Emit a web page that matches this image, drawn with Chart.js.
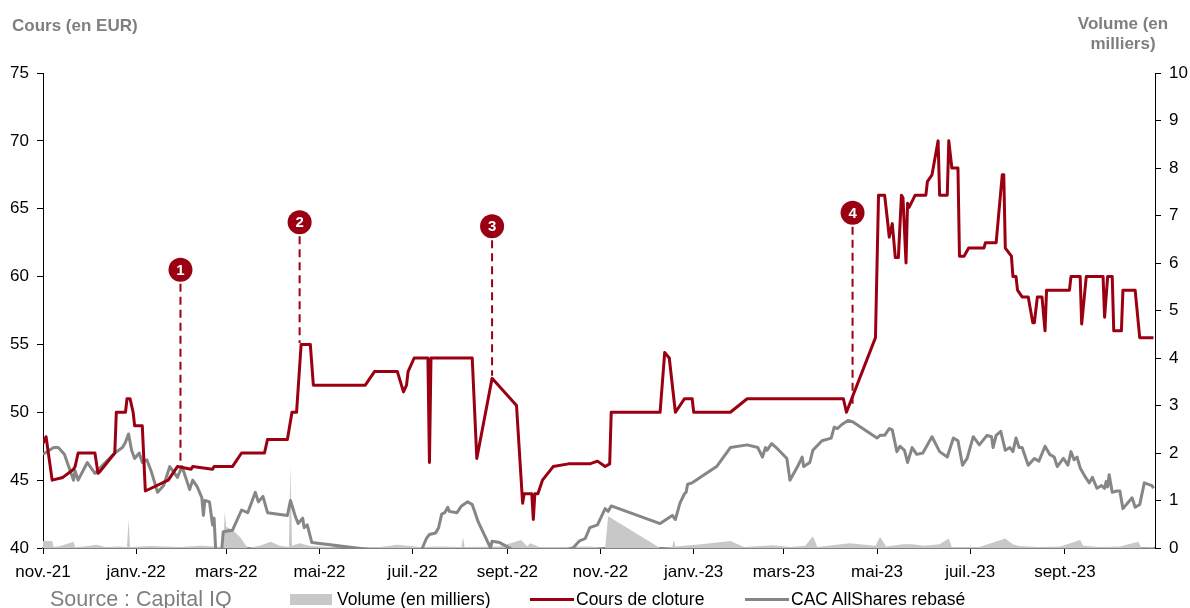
<!DOCTYPE html>
<html lang="fr">
<head>
<meta charset="utf-8">
<script src="https://cdn.jsdelivr.net/npm/chart.js@4.4.1/dist/chart.umd.min.js"></script>
<style>
  body { margin: 0; background: #fff; overflow: hidden; }
  #wrap { position: relative; width: 1190px; height: 608px; overflow: hidden; font-family: "Liberation Sans", Arial, sans-serif; }
  canvas { position: absolute; left: 0; top: 0; }
  .titre { position: absolute; color: #7f7f7f; font-weight: bold; font-size: 17px; }
  .leg { position: absolute; white-space: nowrap; font-size: 17.5px; color: #000; line-height: 22px; }
  .sym { position: absolute; }
</style>
</head>
<body>
<div id="wrap">
  <canvas id="graphique" width="1190" height="608"></canvas>
  <div class="titre" style="left:12px; top:16px;">Cours (en EUR)</div>
  <div class="titre" style="left:1063px; top:14px; width:120px; text-align:center; line-height:20px;">Volume (en<br>milliers)</div>
  <div class="leg" style="left:50px; top:586px; font-size:21.5px; color:#7f7f7f; line-height:26px;">Source : Capital IQ</div>
  <div class="sym" style="left:290px; top:594px; width:42px; height:11px; background:#c8c8c8;"></div>
  <div class="leg" style="left:337px; top:588px;">Volume (en milliers)</div>
  <div class="sym" style="left:530px; top:598px; width:44px; height:3px; background:#9a0012;"></div>
  <div class="leg" style="left:576px; top:588px;">Cours de cloture</div>
  <div class="sym" style="left:745px; top:598px; width:44px; height:3px; background:#868686;"></div>
  <div class="leg" style="left:791px; top:588px;">CAC AllShares rebasé</div>
</div>
<script>
// Axe des dates : jours écoulés depuis le 1er novembre 2021
const moisJours = [0, 61, 120, 181, 242, 304, 365, 426, 485, 546, 607, 669];
const moisLabels = ["nov.-21", "janv.-22", "mars-22", "mai-22", "juil.-22", "sept.-22",
  "nov.-22", "janv.-23", "mars-23", "mai-23", "juil.-23", "sept.-23"];
const dernierJour = 728;

// Cours de cloture (EUR)
const coursJours = [0, 2, 6, 13, 20, 21, 23, 34, 36, 37, 47, 48, 54, 55, 57, 59, 60, 65, 67, 82, 88, 97, 98, 111, 112, 124,
  130, 145, 147, 160, 163, 166, 169, 175, 177, 211, 217, 232, 236, 238, 239, 243, 252, 253, 254, 281, 284, 294, 310, 314,
  315, 320, 321, 322, 324, 327, 334, 344, 358, 363, 368, 371, 372, 404, 407, 410, 414, 417, 420, 425, 426, 450, 461, 524,
  526, 545, 547, 551, 553, 554, 556, 558, 560, 562, 563, 565, 566, 567, 571, 578, 579, 582, 586, 587, 592, 593, 595, 599,
  600, 603, 606, 616, 617, 624, 628, 629, 630, 634, 635, 637, 638, 641, 645, 648, 649, 651, 654, 656, 657, 672, 673, 679,
  680, 683, 694, 695, 697, 700, 701, 706, 707, 715, 718, 727];
const cours = [47.7, 48.2, 45.0, 45.2, 45.8, 46.0, 47.0, 47.0, 45.5, 45.6, 47.0, 50.0, 50.0, 51.0, 51.0, 50.0, 49.0, 49.0,
  44.2, 45.0, 46.0, 45.8, 46.0, 45.8, 46.0, 46.0, 47.0, 47.0, 48.0, 48.0, 50.0, 50.0, 55.0, 55.0, 52.0, 52.0, 53.0, 53.0,
  51.5, 52.0, 53.0, 54.0, 54.0, 46.3, 54.0, 54.0, 46.6, 52.5, 50.5, 43.3, 44.0, 44.0, 42.1, 44.0, 44.0, 45.0, 46.0, 46.2,
  46.2, 46.4, 46.0, 46.2, 50.0, 50.0, 54.4, 54.0, 50.0, 50.5, 51.0, 51.0, 50.0, 50.0, 51.0, 51.0, 50.0, 55.5, 66.0, 66.0,
  64.0, 62.9, 63.9, 61.4, 61.4, 66.0, 65.8, 61.0, 65.4, 65.1, 66.0, 66.0, 67.0, 67.5, 70.0, 66.0, 66.0, 70.0, 68.0, 68.0,
  61.5, 61.5, 62.1, 62.1, 62.5, 62.5, 67.5, 67.5, 62.1, 61.5, 60.0, 60.0, 59.0, 58.5, 58.5, 56.6, 56.6, 58.5, 58.5, 56.0,
  59.0, 59.0, 60.0, 60.0, 56.5, 60.0, 60.0, 57.0, 60.0, 60.0, 56.0, 56.0, 59.0, 59.0, 55.5, 55.5];

// CAC AllShares rebasé (sous 40 : hors de l'axe, donc masqué)
const cacJours = [0, 7, 10, 14, 20, 21, 23, 29, 34, 39, 47, 52, 54, 56, 58, 60, 63, 65, 68, 71, 75, 79, 83, 88, 91, 94, 96,
  98, 101, 104, 105, 106, 109, 111, 112, 113, 115, 117, 118, 124, 130, 134, 139, 141, 144, 147, 160, 162, 165, 167, 170,
  171, 173, 176, 212, 230, 248, 251, 253, 257, 259, 261, 263, 265, 266, 271, 274, 278, 281, 285, 293, 294, 299, 307, 330,
  347, 351, 355, 358, 363, 368, 370, 372, 404, 412, 414, 417, 420, 421, 422, 425, 441, 450, 461, 468, 471, 473, 474, 477,
  480, 487, 489, 494, 497, 498, 502, 504, 510, 516, 518, 520, 523, 527, 530, 546, 548, 551, 554, 556, 559, 561, 564, 566,
  569, 572, 576, 582, 587, 592, 596, 599, 602, 605, 609, 613, 618, 621, 622, 624, 627, 630, 633, 635, 637, 639, 641, 645,
  649, 652, 656, 659, 662, 664, 668, 671, 673, 675, 677, 679, 682, 685, 687, 690, 693, 695, 696, 697, 698, 700, 703, 705,
  707, 710, 713, 715, 718, 721, 726, 727];
const cac = [46.9, 47.4, 47.4, 46.9, 45.0, 45.7, 45.0, 46.3, 45.5, 46.1, 47.0, 47.4, 47.8, 48.4, 47.2, 46.6, 47.0, 46.3,
  46.5, 45.6, 44.1, 44.6, 46.0, 45.2, 46.0, 45.0, 44.3, 45.0, 44.5, 43.7, 42.4, 43.5, 43.4, 41.7, 42.2, 40.0, 39.0, 39.8,
  41.2, 41.3, 42.8, 42.6, 44.1, 43.4, 43.8, 42.6, 42.4, 43.5, 42.4, 41.8, 42.2, 41.5, 41.7, 40.4, 39.9, 39.5, 39.9, 40.7,
  41.0, 41.1, 41.5, 42.5, 42.6, 43.0, 42.7, 42.6, 43.1, 43.4, 43.2, 41.9, 40.0, 40.5, 40.4, 39.9, 39.5, 40.0, 40.5, 40.7,
  41.5, 41.7, 42.9, 42.7, 43.1, 41.8, 42.4, 42.1, 43.3, 44.0, 44.1, 44.7, 44.8, 46.0, 47.4, 47.6, 47.4, 46.7, 47.4, 47.2,
  47.7, 47.4, 46.6, 45.0, 46.0, 46.7, 46.0, 46.3, 47.2, 47.9, 48.1, 48.9, 48.8, 49.1, 49.4, 49.3, 48.1, 48.3, 48.3, 48.8,
  48.7, 47.1, 47.5, 47.2, 46.3, 47.4, 46.9, 47.0, 48.2, 47.1, 46.7, 48.1, 47.9, 46.1, 46.6, 48.2, 47.6, 48.3, 48.2, 47.4,
  48.3, 48.6, 47.2, 47.4, 47.1, 48.1, 47.4, 47.4, 46.1, 46.6, 46.4, 47.5, 46.9, 46.7, 46.0, 46.6, 46.1, 47.1, 46.5, 46.7,
  45.9, 45.3, 44.8, 45.2, 44.4, 44.6, 44.4, 44.9, 44.5, 45.4, 44.1, 44.2, 44.2, 42.9, 43.3, 43.7, 43.0, 43.2, 44.8, 44.6,
  44.4];

// Volume (en milliers)
const volumeJours = [0, 6, 7, 12, 20, 21, 27, 35, 41, 50, 55, 56, 57, 70, 90, 103, 113, 118, 119, 120, 124, 129, 134, 142,
  149, 155, 161, 162, 163, 168, 175, 194, 221, 232, 247, 260, 274, 275, 276, 299, 313, 317, 319, 325, 338, 358, 368, 370,
  404, 412, 413, 414, 431, 450, 459, 478, 489, 499, 504, 507, 528, 545, 548, 552, 563, 569, 577, 587, 593, 595, 613, 630,
  635, 639, 652, 666, 679, 681, 692, 705, 717, 719, 727];
const volume = [0.15, 0.15, 0.02, 0.05, 0.13, 0.02, 0.03, 0.07, 0.02, 0.03, 0.02, 0.59, 0.02, 0.04, 0.02, 0.05, 0.03, 0.02,
  0.76, 0.45, 0.38, 0.23, 0.0, 0.05, 0.13, 0.05, 0.02, 1.75, 0.05, 0.1, 0.04, 0.01, 0.02, 0.07, 0.02, 0.03, 0.02, 0.23,
  0.02, 0.03, 0.17, 0.03, 0.1, 0.02, 0.02, 0.03, 0.0, 0.67, 0.0, 0.02, 0.17, 0.03, 0.08, 0.15, 0.02, 0.06, 0.02, 0.05,
  0.25, 0.02, 0.1, 0.05, 0.23, 0.03, 0.08, 0.08, 0.05, 0.08, 0.2, 0.02, 0.02, 0.2, 0.08, 0.04, 0.02, 0.03, 0.17, 0.05,
  0.02, 0.03, 0.13, 0.01, 0.02];

// Repères numérotés (jour, haut du repère, bas du trait pointillé)
const reperes = ["1", "2", "3", "4"];
const repereJours = [90, 168, 294, 530];
const repereHaut = [60.5, 64.0, 63.7, 64.7];
const repereBas = [46.0, 55.1, 52.7, 50.6];

const ROUGE = "#9a0012";
const GRIS = "#868686";

const points = (jours, valeurs) => jours.map((j, i) => ({ x: j, y: valeurs[i] }));

const reperesPlugin = {
  id: "reperes",
  afterDatasetsDraw(chart) {
    const ctx = chart.ctx;
    const x = chart.scales.x;
    const y = chart.scales.y;
    ctx.save();
    reperes.forEach((txt, i) => {
      const px = x.getPixelForValue(repereJours[i]);
      const pyHaut = y.getPixelForValue(repereHaut[i]);
      const pyBas = y.getPixelForValue(repereBas[i]);
      ctx.strokeStyle = ROUGE;
      ctx.lineWidth = 2;
      ctx.setLineDash([8, 5]);
      ctx.beginPath();
      ctx.moveTo(px, pyHaut + 14);
      ctx.lineTo(px, pyBas);
      ctx.stroke();
      ctx.setLineDash([]);
      ctx.fillStyle = ROUGE;
      ctx.beginPath();
      ctx.arc(px, pyHaut, 12, 0, Math.PI * 2);
      ctx.fill();
      ctx.fillStyle = "#fff";
      ctx.font = "bold 15px 'Liberation Sans', Arial, sans-serif";
      ctx.textAlign = "center";
      ctx.textBaseline = "middle";
      ctx.fillText(txt, px, pyHaut + 1);
    });
    ctx.restore();
  }
};

const policeAxe = { family: "'Liberation Sans', Arial, sans-serif", size: 17 };

new Chart(document.getElementById("graphique"), {
  type: "line",
  data: {
    datasets: [
      {
        label: "Cours de cloture",
        data: points(coursJours, cours),
        borderColor: ROUGE,
        borderWidth: 3,
        borderJoinStyle: "round",
        pointRadius: 0,
        tension: 0,
        yAxisID: "y",
        order: 1
      },
      {
        label: "CAC AllShares rebasé",
        data: points(cacJours, cac),
        borderColor: GRIS,
        borderWidth: 3,
        borderJoinStyle: "round",
        pointRadius: 0,
        tension: 0,
        yAxisID: "y",
        order: 2
      },
      {
        label: "Volume (en milliers)",
        data: points(volumeJours, volume),
        borderWidth: 0,
        borderColor: "rgba(0,0,0,0)",
        backgroundColor: "#c8c8c8",
        fill: "origin",
        pointRadius: 0,
        tension: 0,
        yAxisID: "y1",
        order: 3
      }
    ]
  },
  options: {
    responsive: false,
    animation: false,
    parsing: false,
    clip: 0,
    layout: { padding: { top: 73, left: 0, right: 0, bottom: 0 } },
    plugins: {
      legend: { display: false },
      tooltip: { enabled: false }
    },
    scales: {
      x: {
        type: "linear",
        min: 0,
        max: dernierJour,
        afterBuildTicks: (scale) => { scale.ticks = moisJours.map(v => ({ value: v })); },
        afterFit: (scale) => { scale.height = 60; },
        ticks: {
          autoSkip: false,
          maxRotation: 0,
          padding: 8,
          color: "#000",
          font: policeAxe,
          callback: (v, i) => moisLabels[i]
        },
        grid: { drawOnChartArea: false, tickLength: 6, tickColor: "#000" },
        border: { color: "#808080", width: 2 }
      },
      y: {
        position: "left",
        min: 40,
        max: 75,
        afterFit: (scale) => { scale.width = 43; },
        ticks: { stepSize: 5, padding: 8, color: "#000", font: policeAxe },
        grid: { drawOnChartArea: false, tickLength: 6, tickColor: "#000" },
        border: { color: "#000", width: 1 }
      },
      y1: {
        position: "right",
        min: 0,
        max: 10,
        afterFit: (scale) => { scale.width = 35; },
        ticks: { stepSize: 1, padding: 8, color: "#000", font: policeAxe },
        grid: { drawOnChartArea: false, tickLength: 6, tickColor: "#000" },
        border: { color: "#000", width: 1 }
      }
    }
  },
  plugins: [reperesPlugin]
});
</script>
</body>
</html>
